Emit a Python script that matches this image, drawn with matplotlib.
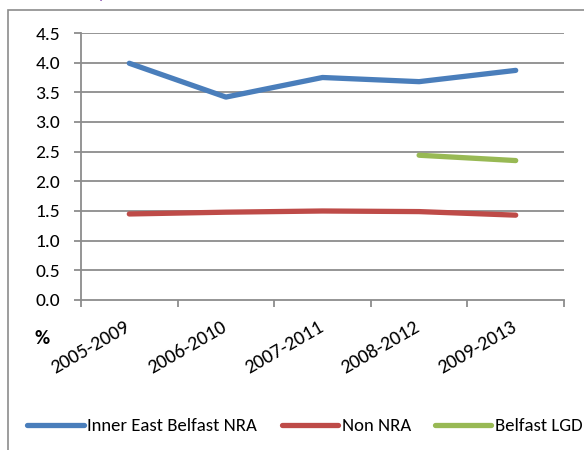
import matplotlib
matplotlib.use("Agg")
import matplotlib.pyplot as plt
from matplotlib.patches import Rectangle
from matplotlib.lines import Line2D
import matplotlib.transforms as mtransforms

plt.rcParams['font.family'] = ['Carlito', 'Lato', 'DejaVu Sans']

categories = ["2005-2009", "2006-2010", "2007-2011", "2008-2012", "2009-2013"]
inner_east = [3.99, 3.42, 3.75, 3.68, 3.87]
non_nra = [1.45, 1.48, 1.50, 1.49, 1.43]
belfast_lgd = [None, None, None, 2.44, 2.35]
y_ticks = [0.0, 0.5, 1.0, 1.5, 2.0, 2.5, 3.0, 3.5, 4.0, 4.5]

W, H = 584, 450
fig = plt.figure(figsize=(W / 100, H / 100), dpi=100)
fig.patch.set_facecolor('white')

# outer chart frame (cropped at right and bottom)
fig.patches.append(Rectangle((8 / W, -0.1), 1.0, 1 - 10 / H + 0.1, transform=fig.transFigure,
                             fill=False, edgecolor='#8c8c8c', linewidth=1.2))
# cropped purple title fragment
fig.text(102 / W, 1 + 8 / H, ")", color='#7030A0', fontsize=16,
         ha='center', va='center')

ax = fig.add_axes([81 / W, 1 - 300 / H, (564 - 81) / W, (300 - 33) / H])
x = [i + 0.5 for i in range(len(categories))]

grid_c = '#8c8c8c'
for v in y_ticks[1:]:
    ax.axhline(v, color=grid_c, linewidth=1.3, zorder=1)

blue = '#4A7EBB'
red = '#BE4B48'
green = '#98B954'
lw = 3.8
ax.plot(x, inner_east, color=blue, linewidth=lw, solid_capstyle='round', solid_joinstyle='round', zorder=3)
ax.plot(x, non_nra, color=red, linewidth=lw, solid_capstyle='round', solid_joinstyle='round', zorder=3)
gx = [xi for xi, v in zip(x, belfast_lgd) if v is not None]
gy = [v for v in belfast_lgd if v is not None]
ax.plot(gx, gy, color=green, linewidth=lw, solid_capstyle='round', solid_joinstyle='round', zorder=3)

ax.set_xlim(0, len(categories))
ax.set_ylim(0, 4.5)
ax.set_yticks(y_ticks)
ax.set_yticklabels([f"{v:.1f}" for v in y_ticks], fontsize=14)
ax.set_xticks(range(len(categories) + 1))
ax.set_xticklabels([])
ax.set_xticks(x, minor=True)
ax.set_xticklabels(categories, minor=True, rotation=30, ha='right', va='top',
                   rotation_mode='anchor', fontsize=14.5)
ax.tick_params(axis='x', which='minor', length=0, pad=13)
ax.tick_params(axis='x', which='major', length=5, color=grid_c, width=1.3, direction='out')
ax.tick_params(axis='y', length=5, color=grid_c, width=1.3, direction='out', pad=10)
for s in ['top', 'right']:
    ax.spines[s].set_visible(False)
for s in ['left', 'bottom']:
    ax.spines[s].set_color(grid_c)
    ax.spines[s].set_linewidth(1.3)
ax.set_facecolor('none')

offset = mtransforms.ScaledTranslation(-5 / 100, 0, fig.dpi_scale_trans)
for lab in ax.get_xticklabels(minor=True):
    lab.set_transform(lab.get_transform() + offset)

fig.text(42 / W, 1 - 339 / H, "%", fontsize=15, fontweight='bold', ha='center', va='center')

handles = [Line2D([], [], color=blue, linewidth=lw, solid_capstyle='round'),
           Line2D([], [], color=red, linewidth=lw, solid_capstyle='round'),
           Line2D([], [], color=green, linewidth=lw, solid_capstyle='round')]
fig.legend(handles, ["Inner East Belfast NRA", "Non NRA", "Belfast LGD"],
           loc='center', bbox_to_anchor=(305 / W, 1 - 426 / H), ncol=3, frameon=False,
           fontsize=13.5, handlelength=3.0, handletextpad=0.2, columnspacing=1.3,
           borderpad=0, borderaxespad=0)

fig.savefig("out.png", dpi=100)
